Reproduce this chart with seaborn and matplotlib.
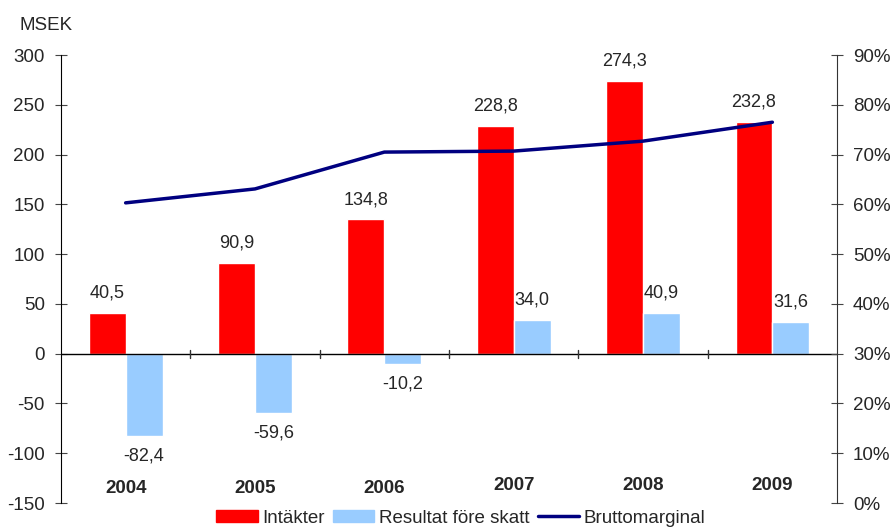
import numpy as np
import pandas as pd
import matplotlib.pyplot as plt
import seaborn as sns
from matplotlib.patches import Patch
from matplotlib.lines import Line2D

# Data
years = ['2004', '2005', '2006', '2007', '2008', '2009']
intakter = [40.5, 90.9, 134.8, 228.8, 274.3, 232.8]
resultat = [-82.4, -59.6, -10.2, 34.0, 40.9, 31.6]
bruttomarginal = [60.3, 63.1, 70.5, 70.7, 72.7, 76.5]

sns.set_style('white')
plt.rcParams['font.family'] = ['Liberation Sans', 'DejaVu Sans']

df = pd.DataFrame({
    'year': years * 2,
    'serie': ['Intäkter'] * 6 + ['Resultat före skatt'] * 6,
    'value': intakter + resultat,
})

fig = plt.figure(figsize=(8.9, 5.27), dpi=100)
ax = fig.add_axes([0.0685, 0.0455, 0.8720, 0.8501])

sns.barplot(data=df, x='year', y='value', hue='serie',
            palette=['#FF0000', '#99CCFF'], width=0.57, gap=0,
            saturation=1, legend=False, ax=ax)

FS = 13.5
ax.set_ylim(-150, 300)
ax.set_xlim(-0.5, 5.5)
ax.set_yticks(range(-150, 301, 50))
ax.set_yticklabels([str(v) for v in range(-150, 301, 50)], fontsize=FS)
ax.set_xlabel('')
ax.set_ylabel('')
ax.set_xticks([])
for s in ['top', 'bottom', 'right']:
    ax.spines[s].set_visible(False)
ax.spines['left'].set_color('black')
ax.tick_params(axis='y', direction='inout', length=9, color='#444444', pad=7)

# nollinje med kategoriavdelare
ax.axhline(0, color='black', lw=1)
for i in range(1, 6):
    ax.plot([i - 0.5, i - 0.5], [-4, 4], color='#333333', lw=1)

# dataetiketter
fmt = lambda v: f'{v:.1f}'.replace('.', ',')
off = 0.57 / 4
for i, (a, b) in enumerate(zip(intakter, resultat)):
    ax.text(i - off, a + 20, fmt(a), ha='center', va='center', fontsize=13)
    if b >= 0:
        ax.text(i + off, b + 20, fmt(b), ha='center', va='center', fontsize=13)
    else:
        ax.text(i + off, b - 20, fmt(b), ha='center', va='center', fontsize=13)
    ax.text(i, -135 + (2.5 if i >= 3 else 0), years[i], ha='center', va='center',
            fontsize=FS, fontweight='bold')

ax.text(-0.054, 1.065, 'MSEK', transform=ax.transAxes, fontsize=FS,
        ha='left', va='center')

# höger axel
ax2 = ax.twinx()
sns.lineplot(x=np.arange(len(years)), y=bruttomarginal, color='#000080',
             lw=2.5, ax=ax2)
ax2.set_ylim(0, 90)
ax2.set_xlim(-0.5, 5.5)
ax2.set_yticks(range(0, 91, 10))
ax2.set_yticklabels([f'{v}%' for v in range(0, 91, 10)], fontsize=FS)
for s in ['top', 'bottom', 'left']:
    ax2.spines[s].set_visible(False)
ax2.spines['right'].set_color('#333333')
ax2.tick_params(axis='y', direction='inout', length=9, color='#444444', pad=7)

handles = [Patch(color='#FF0000', label='Intäkter'),
           Patch(color='#99CCFF', label='Resultat före skatt'),
           Line2D([], [], color='#000080', lw=2.5, label='Bruttomarginal')]
fig.legend(handles=handles, loc='center', bbox_to_anchor=(0.518, 0.017), ncol=3,
           frameon=False, fontsize=FS, handlelength=2.2, handleheight=0.6,
           handletextpad=0.25, columnspacing=0.45, borderpad=0)

fig.savefig('out.png', dpi=100)
